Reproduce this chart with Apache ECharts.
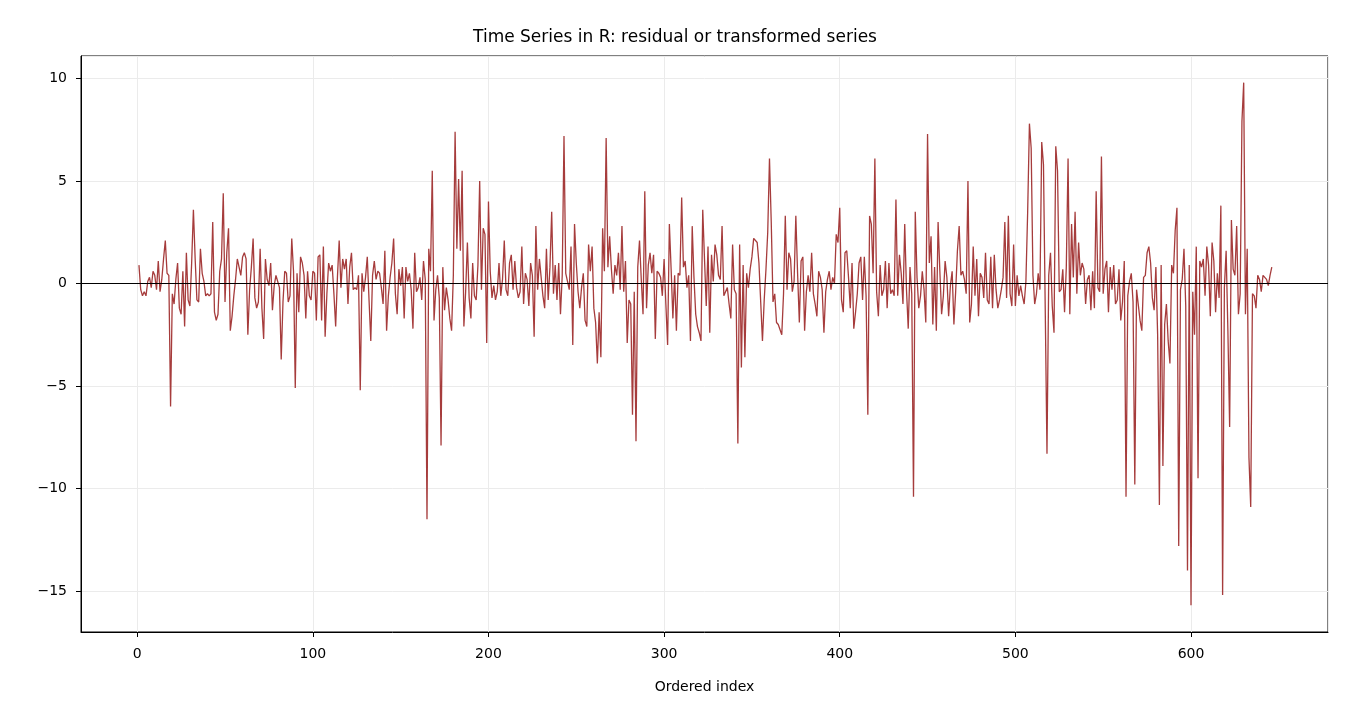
<!DOCTYPE html>
<html><head><meta charset="utf-8">
<script src="https://cdn.jsdelivr.net/npm/echarts@6/dist/echarts.min.js"></script>
<style>html,body{margin:0;padding:0;background:#fff}#c{width:1350px;height:720px}</style>
</head><body><div id="c"></div>
<script>
const titleText = "Time Series in R: residual or transformed series";
const xLabel = "Ordered index";
const values = [
0.9,-0.3,-0.6,-0.4,-0.6,0.1,0.3,-0.2,0.6,0.4,
-0.3,1.1,-0.4,0.2,1.2,2.1,0.5,0.4,-6.0,-0.5,
-1.0,0.2,1.0,-1.2,-1.5,0.6,-2.1,1.5,-0.8,-1.1,
1.0,3.6,1.2,-0.8,-0.9,1.7,0.5,0.1,-0.6,-0.5,
-0.6,-0.5,3.0,-1.4,-1.8,-1.5,0.6,1.2,4.4,-0.9,
1.5,2.7,-2.3,-1.6,-0.6,0.2,1.2,1.2,0.4,1.3,
1.5,1.2,-2.5,-0.3,0.8,2.2,-0.7,-1.2,-0.9,1.7,
-1.2,-2.7,1.2,0.2,-0.1,1.0,-1.3,-0.1,0.4,0.1,
-0.2,-3.7,-0.9,0.6,0.5,-0.9,-0.6,2.2,0.6,-5.1,
0.5,-1.4,1.3,1.0,0.4,-1.7,0.6,-0.6,-0.8,0.6,
0.5,-1.8,1.3,1.4,-1.8,1.8,-2.6,-0.5,1.0,0.6,
0.9,-0.5,-2.1,0.3,2.1,-0.2,1.2,0.7,1.2,-1.0,
0.8,1.5,-0.3,-0.2,-0.3,0.4,-5.2,0.5,-0.4,0.3,
1.3,-0.8,-2.8,0.4,1.1,0.2,0.6,0.5,-0.2,-1.0,
1.6,-2.3,-0.6,0.3,1.0,2.2,-0.5,-1.5,0.7,-0.1,
0.8,-1.7,0.8,0.1,0.5,-0.3,-2.2,1.5,-0.4,-0.2,
0.3,-0.8,1.1,0.2,-11.5,1.7,0.6,5.5,-1.8,-0.3,
0.4,-0.7,-7.9,0.8,-1.3,-0.2,-0.8,-1.7,-2.3,0.4,
7.4,1.7,5.1,1.6,5.5,-2.1,-0.4,2.0,-0.7,-1.7,
1.0,-0.6,-0.8,0.9,5.0,-0.3,2.7,2.4,-2.9,4.0,
0.6,-0.7,-0.1,-0.8,-0.4,1.0,-0.6,0.2,2.1,-0.3,
-0.6,1.0,1.4,-0.3,1.1,-0.2,-0.7,-0.4,1.8,-1.0,
0.5,0.2,-1.1,1.0,0.4,-2.6,2.8,-0.3,1.2,1.2,
-0.6,-1.2,1.7,-0.8,0.8,3.5,-0.5,0.9,-0.8,1.0,
-1.5,0.4,7.2,0.5,0.5,-0.3,1.8,-3.0,2.9,1.0,
-0.4,-1.2,-0.2,0.5,-1.8,-2.1,1.9,0.6,1.8,-1.2,
-1.9,-3.9,-1.4,-3.6,2.7,0.6,7.1,0.8,2.3,0.7,
-0.5,0.9,0.4,1.5,-0.3,2.8,-0.4,1.1,-2.9,-0.8,
-1.0,-6.4,-0.4,-7.7,0.8,2.1,0.2,-1.5,4.5,-1.2,
0.9,1.5,0.5,1.4,-2.7,0.6,0.5,0.3,-0.6,1.2,
-1.0,-3.0,2.9,0.7,-1.7,0.4,-2.3,0.5,0.4,4.2,
0.8,1.1,-0.2,0.4,-2.8,2.8,0.3,-1.5,-2.1,-2.4,
-2.8,3.6,1.2,-1.1,1.8,-2.4,1.4,0.1,1.9,1.4,
0.4,0.2,2.8,-0.6,-0.6,-0.2,-1.0,-1.7,1.9,-0.3,
-0.5,-7.8,1.9,-4.1,0.9,-3.6,0.5,-0.2,0.7,1.3,
2.2,2.2,2.0,1.0,-0.9,-2.8,-0.8,0.7,2.5,6.1,
3.0,-0.9,-0.5,-1.9,-2.0,-2.0,-2.5,-0.5,3.3,-0.3,
1.5,1.2,-0.4,0.1,3.3,0.5,-1.9,1.1,1.3,-2.3,
-0.4,0.4,-0.4,1.5,-0.5,-1.0,-1.6,0.6,0.3,-0.3,
-2.4,-0.4,0.2,0.6,-0.3,0.3,0.0,2.4,2.0,3.7,
-0.8,-1.4,1.5,1.6,0.3,-1.2,1.0,-2.2,-1.4,-0.5,
1.0,1.3,-0.8,1.3,-0.6,-6.4,3.3,2.9,0.5,6.1,
-0.4,-1.6,0.9,-0.6,-0.3,1.1,-1.2,1.0,-0.5,-0.3,
-0.6,4.1,-0.6,1.4,0.5,-1.0,2.9,-0.3,-2.2,0.8,
-0.5,-10.4,3.5,0.3,-1.2,-0.6,0.6,-0.3,-1.9,7.3,
1.0,2.3,-2.0,0.8,-2.3,3.0,0.6,-1.5,-0.6,1.1,
0.3,-1.6,-0.1,0.6,-2.0,-0.4,1.6,2.8,0.4,0.6,
0.2,-0.5,5.0,-1.9,-1.0,1.8,-0.6,1.2,-1.6,0.5,
0.3,-0.7,1.5,-0.8,-1.0,1.3,-1.2,1.4,-0.3,-1.2,
-0.8,-0.3,0.3,3.0,-0.7,3.3,-0.5,-1.1,1.9,-1.1,
0.4,-0.6,-0.1,-0.6,-1.0,0.1,3.5,7.8,6.6,0.4,
-1.0,-0.5,0.5,-0.3,6.9,5.8,-1.2,-8.3,0.4,1.5,
-1.1,-2.4,6.7,5.5,-0.4,-0.3,0.7,-1.4,0.8,6.1,
-1.5,2.9,0.3,3.5,-0.5,2.0,0.4,1.0,0.7,-1.0,
0.2,0.4,-1.3,0.6,-1.2,4.5,-0.2,-0.4,6.2,-0.5,
0.7,1.1,-1.4,0.8,-0.3,0.9,-1.0,-0.8,0.7,-1.8,
-0.9,1.1,-10.4,-0.6,0.1,0.5,-0.9,-9.8,-0.3,-0.3,
-1.8,-2.3,0.3,0.4,1.5,1.8,1.0,-0.7,-1.3,0.8,
-2.5,-10.8,0.9,-8.9,-2.0,-1.0,-2.8,-3.9,0.9,0.5,
2.6,3.7,-12.8,-0.3,0.2,1.7,-1.1,-14.0,0.9,-15.7,
-0.4,-2.5,1.8,-9.5,1.1,0.8,1.2,-0.6,1.8,0.9,
-1.6,2.0,1.1,-1.4,0.5,-0.7,3.8,-15.2,-0.2,1.6,
-2.3,-7.0,3.1,0.7,0.4,2.8,-1.5,-0.5,7.9,9.8,
-1.5,1.7,-8.5,-10.9,-0.5,-0.6,-1.2,0.4,0.2,-0.4,
0.4,0.3,0.2,-0.1,0.4,0.8
];
const points = values.map((v,i)=>[i+1,v]);
const font = "DejaVu Sans";
const chart = echarts.init(document.getElementById('c'));
chart.setOption({
  animation:false,
  textStyle:{fontFamily:font},
  title:{text:titleText,left:'center',top:24,textStyle:{fontFamily:font,fontSize:17,fontWeight:'normal',color:'#000'}},
  grid:{left:81,right:22,top:56,bottom:88,show:true,borderColor:'#000',borderWidth:1,backgroundColor:'transparent'},
  xAxis:{type:'value',min:-32,max:678,name:xLabel,nameLocation:'middle',nameGap:48,
    nameTextStyle:{fontFamily:font,fontSize:14,color:'#000'},
    axisLine:{show:true,onZero:false,lineStyle:{color:'#000'}},axisTick:{show:true,length:5,lineStyle:{color:'#000'}},
    axisLabel:{color:'#000',fontSize:14,fontFamily:font,margin:15,showMinLabel:false,showMaxLabel:false},
    splitLine:{show:true,lineStyle:{color:'#ebebeb',width:1}}},
  yAxis:{type:'value',min:-17,max:11.1,
    axisLine:{show:true,onZero:false,lineStyle:{color:'#000'}},axisTick:{show:true,length:5,lineStyle:{color:'#000'}},
    axisLabel:{color:'#000',fontSize:14,fontFamily:font,margin:14,showMinLabel:false,showMaxLabel:false,formatter:v=>String(v).replace('-','\u2212')},
    splitLine:{show:true,lineStyle:{color:'#ebebeb',width:1}}},
  series:[{type:'line',data:points,showSymbol:false,lineStyle:{color:'#a13232',width:1.3,opacity:0.95},
    markLine:{silent:true,symbol:'none',label:{show:false},lineStyle:{color:'#000',width:1,type:'solid'},data:[{yAxis:0}]}}]
});
</script></body></html>
